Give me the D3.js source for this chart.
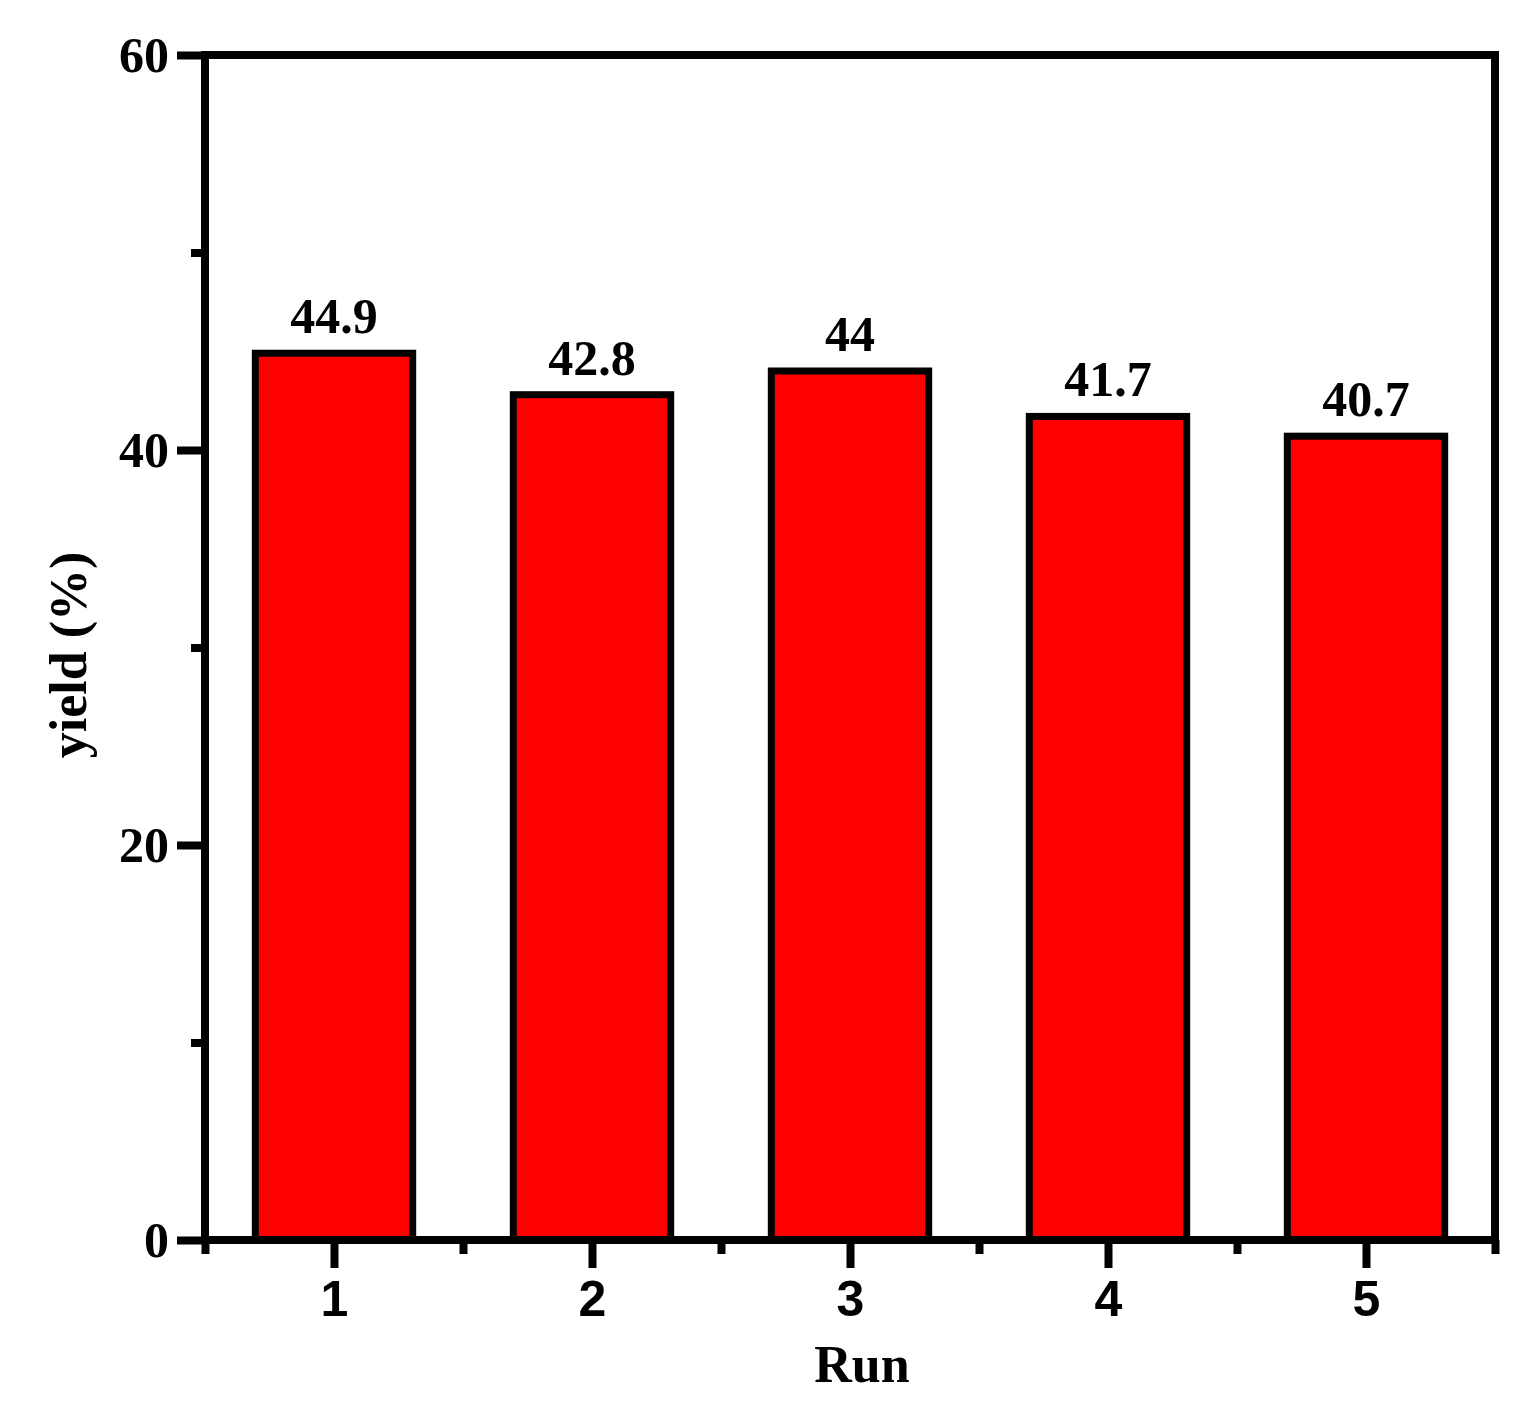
<!DOCTYPE html>
<html>
<head>
<meta charset="utf-8">
<script src="https://cdn.jsdelivr.net/npm/d3@7"></script>
<style>
  body { margin: 0; background: #fff; }
</style>
</head>
<body>
<div id="chart"></div>
<script>
// chart data
var runs = [1, 2, 3, 4, 5];
var yields = [44.9, 42.8, 44, 41.7, 40.7];
var yieldLabels = ['44.9', '42.8', '44', '41.7', '40.7'];
var yMajor = [0, 20, 40, 60];
var yMinor = [10, 30, 50];
var xMinor = [1.5, 2.5, 3.5, 4.5];

var W = 1528, H = 1402;
var margin = { top: 55, right: 33, bottom: 162, left: 205 };
var width = W - margin.left - margin.right,
    height = H - margin.top - margin.bottom;

var svg = d3.select('#chart').append('svg')
    .attr('width', W)
    .attr('height', H);
var g = svg.append('g')
    .attr('transform', 'translate(' + margin.left + ',' + margin.top + ')');

var x = d3.scaleLinear().domain([0.5, 5.5]).range([0, width]);
var y = d3.scaleLinear().domain([0, 60]).range([height, 0]);
var barW = x(1.61) - x(1);

//Bars
g.selectAll('rect.bar')
    .data(runs)
    .enter()
    .append('rect')
    .attr('class', 'bar')
    .attr('x', function(d) { return x(d) - barW / 2; })
    .attr('y', function(d, i) { return y(yields[i]); })
    .attr('width', barW)
    .attr('height', function(d, i) { return height - y(yields[i]); })
    .attr('fill', '#ff0000')
    .attr('stroke', '#000')
    .attr('stroke-width', 7);

//Value labels
g.selectAll('text.val')
    .data(runs)
    .enter()
    .append('text')
    .attr('x', function(d) { return x(d); })
    .attr('y', function(d, i) { return y(yields[i]) - 20; })
    .attr('text-anchor', 'middle')
    .style('font-family', '"Liberation Serif", "Times New Roman", serif')
    .style('font-weight', 'bold')
    .style('font-size', '50px')
    .text(function(d, i) { return yieldLabels[i]; });

//Frame
g.append('rect')
    .attr('x', 0).attr('y', 0)
    .attr('width', width).attr('height', height)
    .attr('fill', 'none')
    .attr('stroke', '#000')
    .attr('stroke-width', 8);

//Y axis
var yAxis = g.append('g')
    .call(d3.axisLeft(y).tickValues(yMajor).tickSize(28).tickPadding(8).tickFormat(d3.format('d')));
yAxis.select('.domain').remove();
yAxis.selectAll('line').attr('stroke-width', 8);
yAxis.selectAll('text')
    .style('font-family', '"Liberation Serif", "Times New Roman", serif')
    .style('font-weight', 'bold')
    .style('font-size', '50px');
var yAxisMinor = g.append('g')
    .call(d3.axisLeft(y).tickValues(yMinor).tickSize(14).tickFormat(''));
yAxisMinor.select('.domain').remove();
yAxisMinor.selectAll('line').attr('stroke-width', 8);

//X axis
var xAxis = g.append('g')
    .attr('transform', 'translate(0,' + height + ')')
    .call(d3.axisBottom(x).tickValues(runs).tickSize(28).tickPadding(12).tickFormat(d3.format('d')));
xAxis.select('.domain').remove();
xAxis.selectAll('line').attr('stroke-width', 8);
xAxis.selectAll('text')
    .style('font-family', '"Liberation Sans", Arial, sans-serif')
    .style('font-weight', 'bold')
    .style('font-size', '50px');
var xAxisMinor = g.append('g')
    .attr('transform', 'translate(0,' + height + ')')
    .call(d3.axisBottom(x).tickValues(xMinor.concat([0.5, 5.5])).tickSize(14).tickFormat(''));
xAxisMinor.select('.domain').remove();
xAxisMinor.selectAll('line').attr('stroke-width', 8);

//Axis titles
svg.append('text')
    .attr('x', 862).attr('y', 1382)
    .attr('text-anchor', 'middle')
    .style('font-family', '"Liberation Serif", "Times New Roman", serif')
    .style('font-weight', 'bold')
    .style('font-size', '52px')
    .text('Run');
svg.append('text')
    .attr('transform', 'translate(86,655) rotate(-90)')
    .attr('text-anchor', 'middle')
    .style('font-family', '"Liberation Serif", "Times New Roman", serif')
    .style('font-weight', 'bold')
    .style('font-size', '52px')
    .text('yield (%)');
</script>
</body>
</html>
